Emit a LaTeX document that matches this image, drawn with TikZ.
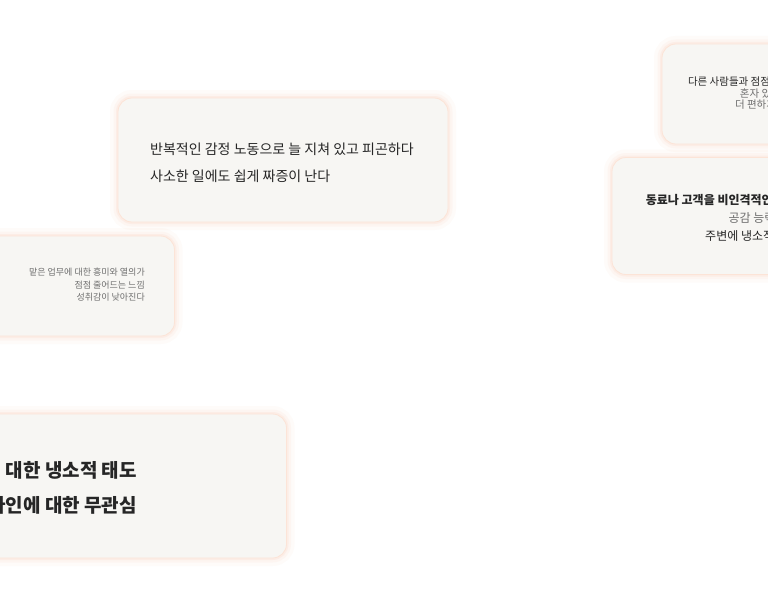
\documentclass[tikz,border=0pt]{standalone}
\usepackage{fontspec}
\setmainfont{Noto Sans CJK KR}
\definecolor{cardfill}{HTML}{F7F6F3}
\definecolor{glow}{HTML}{FBD9C6}
\definecolor{ink}{HTML}{262626}
\definecolor{soft}{HTML}{6E6E6E}
\tikzset{
  card/.style={rounded corners=14pt, fill=cardfill, draw=glow!70, line width=0.8pt,
    inner sep=0pt,
    preaction={draw=glow, draw opacity=0.10, line width=16pt},
    preaction={draw=glow, draw opacity=0.15, line width=9pt},
    preaction={draw=glow, draw opacity=0.25, line width=4pt}},
  txt/.style={inner sep=0pt, text=ink, font=\fontsize{14pt}{27pt}\selectfont},
}
\begin{document}
\begin{tikzpicture}[x=1pt,y=-1pt]
\useasboundingbox (0,0) rectangle (768,602);
\fill[white] (0,0) rectangle (768,602);
\clip (0,0) rectangle (768,602);
% cards
\node[card, minimum width=330pt, minimum height=124pt] (cA) at (283,160) {};
\node[card, minimum width=238pt, minimum height=100pt] (cB) at (781,94) {};
\node[card, minimum width=338pt, minimum height=117pt] (cC) at (781,216) {};
\node[card, minimum width=235pt, minimum height=100pt] (cD) at (57,286) {};
\node[card, minimum width=407pt, minimum height=144pt] (cE) at (83,486) {};
% texts
\node[txt, anchor=north west, align=left] (tA) at (150,143)
  {반복적인 감정 노동으로 늘 지쳐 있고 피곤하다\\사소한 일에도 쉽게 짜증이 난다};
\node[txt, anchor=north, align=center, font=\fontsize{10.5pt}{11.5pt}\selectfont, text=soft] (tB) at (776,77)
  {\textcolor{ink}{다른 사람들과 점점 거리를 두고 싶어진다}\\혼자 있는 시간이\\더 편하게 느껴진다};
\node[txt, anchor=north, align=center, font=\fontsize{12pt}{18pt}\selectfont] (tC) at (781,194)
  {\bfseries 동료나 고객을 비인격적인 대상으로 대하는 경향이 있다\\\textcolor{soft}{공감 능력이 떨어지고}\\주변에 냉소적인 태도를 보인다};
\node[txt, anchor=north east, align=right, font=\fontsize{9pt}{12.5pt}\selectfont, text=soft] (tD) at (145,268)
  {맡은 업무에 대한 흥미와 열의가\\점점 줄어드는 느낌\\성취감이 낮아진다};
\node[txt, anchor=north east, align=right, font=\fontsize{19pt}{35pt}\selectfont\bfseries] (tE) at (137,461)
  {업무에 대한 냉소적 태도\\타인에 대한 무관심};
\end{tikzpicture}
\end{document}
